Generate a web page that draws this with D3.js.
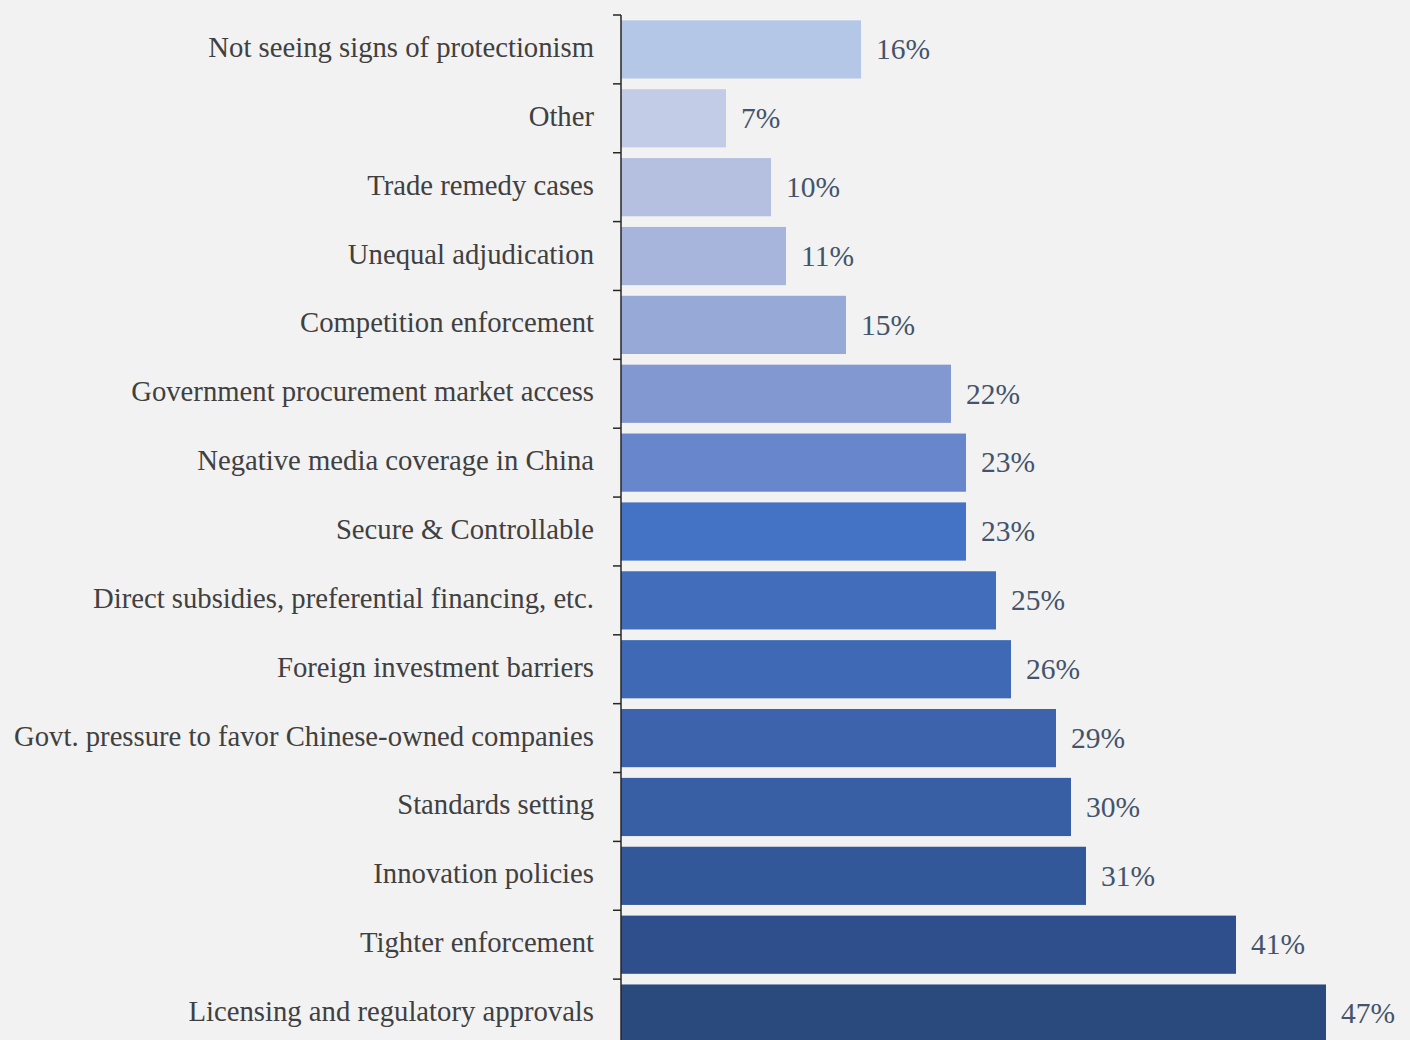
<!DOCTYPE html>
<html>
<head>
<meta charset="utf-8">
<script src="https://cdn.jsdelivr.net/npm/d3@7"></script>
<style>
  body { margin: 0; background: #f2f2f2; }
  svg { display: block; }
  .label { font-family: "Liberation Serif", "DejaVu Serif", serif; }
</style>
</head>
<body>
<script>
let categories = [
  "Not seeing signs of protectionism",
  "Other",
  "Trade remedy cases",
  "Unequal adjudication",
  "Competition enforcement",
  "Government procurement market access",
  "Negative media coverage in China",
  "Secure & Controllable",
  "Direct subsidies, preferential financing, etc.",
  "Foreign investment barriers",
  "Govt. pressure to favor Chinese-owned companies",
  "Standards setting",
  "Innovation policies",
  "Tighter enforcement",
  "Licensing and regulatory approvals"
];
let values = [16, 7, 10, 11, 15, 22, 23, 23, 25, 26, 29, 30, 31, 41, 47];
let barColors = [
  "#b4c7e7", "#c2cce6", "#b5c0e1", "#a7b5dc", "#97aad7",
  "#8298d0", "#6886cb", "#4472c4", "#426dbb", "#3f69b4",
  "#3c63ab", "#385ea3", "#33589a", "#2e4f8b", "#2a4a7e"
];

let width = 1410;
let height = 1040;
let axisX = 621;
let chartTop = 15;

let svg = d3.select('body').append('svg')
            .attr('width', width)
            .attr('height', height)
            .style('background', '#f2f2f2');

let x = d3.scaleLinear()
          .domain([0, 47])
          .range([axisX, 1326]);

let y = d3.scaleBand()
          .domain(categories)
          .range([chartTop, 1048])
          .paddingInner(0.155)
          .paddingOuter(0.0775);

let gap = y.step() * y.paddingInner() / 2;

// bars
svg.selectAll('rect.bar')
   .data(values)
   .enter()
   .append('rect')
   .attr('class', 'bar')
   .attr('x', x(0))
   .attr('y', (d, i) => y(categories[i]))
   .attr('width', (d) => x(d) - x(0))
   .attr('height', y.bandwidth())
   .attr('fill', (d, i) => barColors[i]);

// value labels
svg.selectAll('text.value')
   .data(values)
   .enter()
   .append('text')
   .attr('class', 'label value')
   .attr('x', (d) => x(d) + 15)
   .attr('y', (d, i) => y(categories[i]) + y.bandwidth() / 2)
   .attr('dy', '0.33em')
   .attr('font-size', 29.5)
   .attr('fill', '#44546a')
   .text((d) => d + '%');

// category axis
let yAxis = d3.axisLeft(y).tickSize(0).tickPadding(27);
let g = svg.append('g')
           .attr('transform', 'translate(' + axisX + ',0)')
           .call(yAxis);
g.select('.domain').remove();
g.selectAll('text')
 .attr('class', 'label')
 .attr('dy', '0.26em')
 .attr('font-size', 28.7)
 .attr('fill', '#404040');

// axis line and boundary ticks
svg.append('line')
   .attr('x1', axisX).attr('x2', axisX)
   .attr('y1', chartTop).attr('y2', height)
   .attr('stroke', '#262626')
   .attr('stroke-width', 1.5);

svg.selectAll('line.tick')
   .data(categories)
   .enter()
   .append('line')
   .attr('class', 'tick')
   .attr('x1', axisX - 8).attr('x2', axisX)
   .attr('y1', (d) => y(d) - gap)
   .attr('y2', (d) => y(d) - gap)
   .attr('stroke', '#262626')
   .attr('stroke-width', 1.5);
</script>
</body>
</html>
